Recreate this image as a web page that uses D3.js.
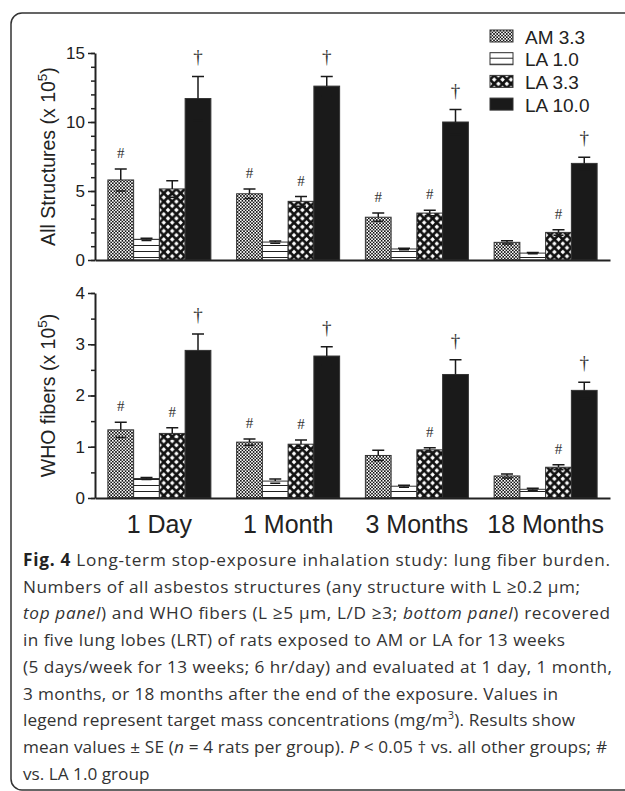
<!DOCTYPE html>
<html>
<head>
<meta charset="utf-8">
<title>fig4</title>
<style>
  body { margin: 0; background: #fff; }
  svg { font-family: "Liberation Sans", Arial, sans-serif; }
  .axis path, .axis line { stroke: #222; }
  .axis path { stroke-width: 2; }
  .axis line { stroke-width: 1.5; }
  .axis text { fill: #222; font-size: 17px; font-family: "Liberation Sans", Arial, sans-serif; }
  .mark { font-family: "Liberation Serif", "DejaVu Serif", serif; fill: #333; text-anchor: middle; }
  .caption { font-family: "Open Sans", sans-serif; font-size: 17.2px; fill: #333; }
</style>
</head>
<body>
<div id="chart"></div>
<script src="https://d3js.org/d3.v7.min.js"></script>
<script>
// categories and series
var categories = ["1 Day", "1 Month", "3 Months", "18 Months"];
var series = ["AM 3.3", "LA 1.0", "LA 3.3", "LA 10.0"];

// top panel: all structures (x 10^5), mean and SE, one array per series
var allAM33 = [5.8, 4.8, 3.1, 1.28];
var allLA10 = [1.5, 1.3, 0.8, 0.5];
var allLA33 = [5.15, 4.25, 3.4, 2.0];
var allLA100 = [11.7, 12.6, 10.0, 7.0];
var allSeAM33 = [0.8, 0.35, 0.3, 0.12];
var allSeLA10 = [0.08, 0.08, 0.06, 0.05];
var allSeLA33 = [0.6, 0.35, 0.2, 0.2];
var allSeLA100 = [1.6, 0.7, 0.9, 0.45];

// bottom panel: WHO fibers (x 10^5)
var whoAM33 = [1.33, 1.09, 0.83, 0.43];
var whoLA10 = [0.38, 0.33, 0.23, 0.17];
var whoLA33 = [1.26, 1.05, 0.94, 0.60];
var whoLA100 = [2.88, 2.77, 2.41, 2.10];
var whoSeAM33 = [0.15, 0.06, 0.10, 0.04];
var whoSeLA10 = [0.02, 0.04, 0.02, 0.02];
var whoSeLA33 = [0.11, 0.08, 0.04, 0.05];
var whoSeLA100 = [0.32, 0.18, 0.29, 0.16];

// significance marks
var allMarks = [["#", "#", "#", ""], ["", "", "", ""], ["", "#", "#", "#"], ["†", "†", "†", "†"]];
var whoMarks = [["#", "#", "", ""], ["", "", "", ""], ["#", "#", "#", "#"], ["†", "†", "†", "†"]];

// y ticks
var allTicks = [0, 5, 10, 15];
var allMinor = d3.range(0, 16, 1);
var whoTicks = [0, 1, 2, 3, 4];
var whoMinor = d3.range(0, 4.01, 0.5);

var W = 625, H = 791;
var svg = d3.select("#chart").append("svg")
  .attr("width", W).attr("height", H);

// frame
svg.append("rect")
  .attr("x", 11).attr("y", 13).attr("width", 660).attr("height", 777)
  .attr("rx", 11).attr("fill", "none").attr("stroke", "#333").attr("stroke-width", 1.5);

// patterns
var defs = svg.append("defs");
var pAM = defs.append("pattern").attr("id", "pAM").attr("patternUnits", "userSpaceOnUse")
  .attr("width", 3.2).attr("height", 3.2);
pAM.append("rect").attr("width", 3.2).attr("height", 3.2).attr("fill", "#fff");
pAM.append("rect").attr("width", 1.6).attr("height", 1.6).attr("fill", "#111");
pAM.append("rect").attr("x", 1.6).attr("y", 1.6).attr("width", 1.6).attr("height", 1.6).attr("fill", "#111");

var pL1 = defs.append("pattern").attr("id", "pL1").attr("patternUnits", "userSpaceOnUse")
  .attr("width", 8).attr("height", 6);
pL1.append("rect").attr("width", 8).attr("height", 6).attr("fill", "#fff");
pL1.append("rect").attr("y", 5).attr("width", 8).attr("height", 1.2).attr("fill", "#222");

var pL3 = defs.append("pattern").attr("id", "pL3").attr("patternUnits", "userSpaceOnUse")
  .attr("width", 8.4).attr("height", 8.4);
pL3.append("rect").attr("width", 8.4).attr("height", 8.4).attr("fill", "#111");
[[0, 0], [8.4, 0], [0, 8.4], [8.4, 8.4], [4.2, 4.2]].forEach(function(c) {
  var r = 2.3;
  pL3.append("path").attr("fill", "#fff")
    .attr("d", "M" + c[0] + "," + (c[1] - r) + "L" + (c[0] + r) + "," + c[1] +
      "L" + c[0] + "," + (c[1] + r) + "L" + (c[0] - r) + "," + c[1] + "Z");
});
var fills = ["url(#pAM)", "url(#pL1)", "url(#pL3)", "#1a1a1a"];

var x0 = d3.scaleBand().domain(categories).range([95, 610]).paddingInner(0.2).paddingOuter(0.1);
var x1 = d3.scaleBand().domain(series).range([0, x0.bandwidth()]);

function panel(y, means, ses, marks, ticks, minor, label, showCats) {
  var g = svg.append("g");
  var rows = [];
  series.forEach(function(s, si) {
    categories.forEach(function(c, ci) {
      rows.push({s: s, si: si, c: c, v: means[si][ci], se: ses[si][ci], m: marks[si][ci]});
    });
  });

  var cap = 6;
  g.selectAll("rect.bar").data(rows).enter().append("rect").attr("class", "bar")
    .attr("x", function(d) { return x0(d.c) + x1(d.s); })
    .attr("y", function(d) { return y(d.v); })
    .attr("width", x1.bandwidth())
    .attr("height", function(d) { return y(0) - y(d.v); })
    .attr("fill", function(d) { return fills[d.si]; })
    .attr("stroke", "#333").attr("stroke-width", 1);

  // error bars: upper whisker, plus lower cap drawn over the fill
  var eb = g.append("g").attr("stroke", "#1a1a1a").attr("stroke-width", 1.5).attr("fill", "none");
  eb.selectAll("path").data(rows).enter().append("path")
    .attr("d", function(d) {
      var cx = x0(d.c) + x1(d.s) + x1.bandwidth() / 2;
      var yt = y(d.v + d.se), ym = y(d.v), yb = y(d.v - d.se);
      return "M" + cx + "," + ym + "V" + yt + "M" + (cx - cap) + "," + yt + "H" + (cx + cap) +
        "M" + (cx - cap + 1) + "," + yb + "H" + (cx + cap - 1);
    });

  g.selectAll("text.mark").data(rows.filter(function(d) { return d.m; })).enter()
    .append("text").attr("class", "mark")
    .attr("x", function(d) { return x0(d.c) + x1(d.s) + x1.bandwidth() / 2; })
    .attr("y", function(d) { return y(d.v + d.se) - (d.m === "#" ? 11 : 13); })
    .attr("font-size", function(d) { return d.m === "#" ? 15 : 19; })
    .text(function(d) { return d.m; });

  // axes
  var y0 = y(0);
  g.append("g").attr("class", "axis")
    .call(d3.axisLeft(y).tickValues(minor).tickSize(4).tickFormat(""))
    .attr("transform", "translate(95,0)")
    .select(".domain").remove();
  g.append("g").attr("class", "axis").attr("transform", "translate(95,0)")
    .call(d3.axisLeft(y).tickValues(ticks).tickSize(7).tickSizeOuter(0).tickPadding(3).tickFormat(d3.format("d")));

  var xa = g.append("g").attr("class", "axis").attr("transform", "translate(0," + y0 + ")")
    .call(d3.axisBottom(x0).tickSize(0).tickSizeOuter(0).tickPadding(17)
      .tickFormat(showCats ? null : ""));
  xa.selectAll("text").style("font-size", "25px").attr("dy", "0.71em");

  var ym = (y.range()[0] + y.range()[1]) / 2;
  var t = svg.append("text").attr("transform", "translate(55," + ym + ") rotate(-90)")
    .attr("text-anchor", "middle").attr("fill", "#222").style("font-size", "19.5px");
  t.append("tspan").text(label);
  t.append("tspan").attr("dy", -8).style("font-size", "13.5px").text("5");
  t.append("tspan").attr("dy", 8).text(")");
}

var yAll = d3.scaleLinear().domain([0, 15]).range([260, 53]);
var yWho = d3.scaleLinear().domain([0, 4]).range([498, 293]);

panel(yAll, [allAM33, allLA10, allLA33, allLA100], [allSeAM33, allSeLA10, allSeLA33, allSeLA100],
  allMarks, allTicks, allMinor, "All Structures (x 10", false);
panel(yWho, [whoAM33, whoLA10, whoLA33, whoLA100], [whoSeAM33, whoSeLA10, whoSeLA33, whoSeLA100],
  whoMarks, whoTicks, whoMinor, "WHO fibers (x 10", true);

// legend
var lg = svg.append("g").attr("transform", "translate(490,30)");
series.forEach(function(s, i) {
  var row = lg.append("g").attr("transform", "translate(0," + (i * 22.7) + ")");
  row.append("rect").attr("width", 23).attr("height", 12)
    .attr("fill", fills[i]).attr("stroke", "#333").attr("stroke-width", 1);
  row.append("text").attr("x", 35).attr("y", 13.5).attr("fill", "#222")
    .style("font-size", "19px").text(s);
});

// caption
var capLines = [
  [["Fig. 4", "b"], [" Long-term stop-exposure inhalation study: lung fiber burden.", ""]],
  [["Numbers of all asbestos structures (any structure with L ≥0.2 μm;", ""]],
  [["top panel", "i"], [") and WHO fibers (L ≥5 μm, L/D ≥3; ", ""], ["bottom panel", "i"], [") recovered", ""]],
  [["in five lung lobes (LRT) of rats exposed to AM or LA for 13 weeks", ""]],
  [["(5 days/week for 13 weeks; 6 hr/day) and evaluated at 1 day, 1 month,", ""]],
  [["3 months, or 18 months after the end of the exposure. Values in", ""]],
  [["legend represent target mass concentrations (mg/m", ""], ["3", "sup"], ["). Results show", ""]],
  [["mean values ± SE (", ""], ["n", "i"], [" = 4 rats per group). ", ""], ["P", "i"], [" < 0.05 † vs. all other groups; #", ""]],
  [["vs. LA 1.0 group", ""]]
];
// right edge of each caption line in the figure
var capEnds = [610, 580, 610, 565, 612, 558, 575, 607, 0];
capLines.forEach(function(line, i) {
  var t = svg.append("text").attr("class", "caption").attr("x", 23).attr("y", 566 + i * 26.7);
  var afterSup = false;
  line.forEach(function(seg) {
    var sp = t.append("tspan").text(seg[0]);
    if (afterSup) { sp.attr("dy", 7); afterSup = false; }
    if (seg[1] === "b") sp.attr("font-weight", "bold").attr("fill", "#222");
    if (seg[1] === "i") sp.attr("font-style", "italic");
    if (seg[1] === "sup") { sp.attr("dy", -7).attr("font-size", "11px"); afterSup = true; }
  });
  if (capEnds[i]) {
    t.attr("textLength", capEnds[i] - 23).attr("lengthAdjust", "spacing");
  }
});
</script>
</body>
</html>
